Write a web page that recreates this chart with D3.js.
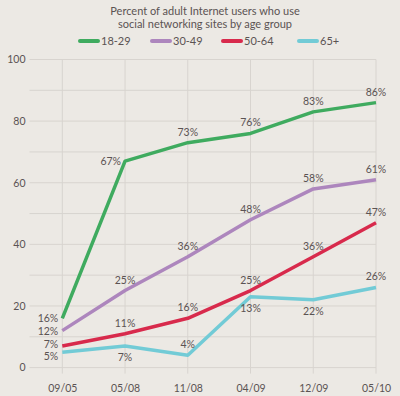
<!DOCTYPE html>
<html><head><meta charset="utf-8">
<script src="https://cdn.jsdelivr.net/npm/d3@7"></script>
<style>
html,body{margin:0;padding:0;background:#ece9e4;}
svg{display:block;font-family:Lato,"Open Sans",sans-serif;}
</style></head>
<body><svg id="c" width="400" height="396"></svg>
<script>
const titleLines = ["Percent of adult Internet users who use", "social networking sites by age group"];
const categories = ["09/05", "05/08", "11/08", "04/09", "12/09", "05/10"];
const seriesNames = ["18-29", "30-49", "50-64", "65+"];
const seriesColors = ["#3fab5f", "#ad86bd", "#d82a4c", "#72cbd6"];
const values18_29 = [16, 67, 73, 76, 83, 86];
const values30_49 = [12, 25, 36, 48, 58, 61];
const values50_64 = [7, 11, 16, 25, 36, 47];
const values65 = [5, 7, 4, 23, 22, 26];
const labels18_29 = ["16%", "67%", "73%", "76%", "83%", "86%"];
const labels30_49 = ["12%", "25%", "36%", "48%", "58%", "61%"];
const labels50_64 = ["7%", "11%", "16%", "25%", "36%", "47%"];
const labels65 = ["5%", "7%", "4%", "13%", "22%", "26%"];
const yTicks = [0, 20, 40, 60, 80, 100];
const yGrid = [0, 10, 20, 30, 40, 50, 60, 70, 80, 90, 100];
// label placement codes: L = left, LU = left raised, LD = left lowered, A = above, B = below
const place18_29 = ["L", "L", "A", "A", "A", "A"];
const place30_49 = ["L", "A", "A", "A", "A", "A"];
const place50_64 = ["LU", "A", "A", "A", "A", "A"];
const place65 = ["LD", "B", "A", "B", "B", "A"];

const series = [
  {name: seriesNames[0], color: seriesColors[0], values: values18_29, labels: labels18_29, place: place18_29},
  {name: seriesNames[1], color: seriesColors[1], values: values30_49, labels: labels30_49, place: place30_49},
  {name: seriesNames[2], color: seriesColors[2], values: values50_64, labels: labels50_64, place: place50_64},
  {name: seriesNames[3], color: seriesColors[3], values: values65, labels: labels65, place: place65}
];

const svg = d3.select("#c");
const textColor = "#5b5353";
const gridColor = "#d8d4cf";

const x = d3.scalePoint().domain(categories).range([62.3, 376]);
const y = d3.scaleLinear().domain([0, 100]).range([367.6, 59.5]);

// title
svg.append("g").selectAll("text").data(titleLines).join("text")
  .attr("x", 205).attr("y", (d, i) => 14.5 + i * 13)
  .attr("text-anchor", "middle").attr("font-size", 11).attr("fill", textColor).text(d => d);

// legend
const legendX = [80, 152, 223, 299];
const lg = svg.append("g").selectAll("g").data(series).join("g")
  .attr("transform", (d, i) => `translate(${legendX[i]},41)`);
lg.append("line").attr("x1", 0).attr("x2", 18).attr("y1", 0).attr("y2", 0)
  .attr("stroke", d => d.color).attr("stroke-width", 4).attr("stroke-linecap", "round");
lg.append("text").attr("x", 21).attr("y", 4).attr("font-size", 11).attr("fill", textColor).text(d => d.name);

// grid
const grid = svg.append("g");
grid.selectAll("line.h").data(yGrid).join("line").attr("class", "h")
  .attr("x1", 29.5).attr("x2", 376).attr("y1", d => y(d)).attr("y2", d => y(d))
  .attr("stroke", gridColor).attr("stroke-width", 1);
grid.selectAll("line.v").data(categories).join("line").attr("class", "v")
  .attr("x1", d => x(d)).attr("x2", d => x(d)).attr("y1", y(100)).attr("y2", y(0) + 6)
  .attr("stroke", gridColor).attr("stroke-width", 1);

// y axis labels
const yAxis = d3.axisLeft(y).tickValues(yTicks).tickSize(0).tickPadding(4);
const ya = svg.append("g").attr("transform", "translate(29.5,0)").call(yAxis);
ya.select(".domain").remove();
ya.selectAll("text").attr("font-size", 10.5).attr("fill", textColor).attr("font-family", "Lato, sans-serif");

// x axis labels
const xAxis = d3.axisBottom(x).tickSize(0).tickPadding(0);
const xa = svg.append("g").attr("transform", `translate(0,${y(0) + 16.5})`).call(xAxis);
xa.select(".domain").remove();
xa.selectAll("text").attr("font-size", 10.5).attr("fill", textColor).attr("font-family", "Lato, sans-serif");

// lines
const line = d3.line().x((d, i) => x(categories[i])).y(d => y(d));
svg.append("g").selectAll("path").data(series).join("path")
  .attr("d", d => line(d.values)).attr("fill", "none")
  .attr("stroke", d => d.color).attr("stroke-width", 3.5)
  .attr("stroke-linejoin", "round");

// labels
const lbl = svg.append("g");
series.forEach(s => {
  s.values.forEach((v, i) => {
    const p = s.place[i];
    let tx = x(categories[i]), ty = y(v), anchor = "middle";
    if (p[0] === "L") {
      tx -= 4; ty += 4; anchor = "end";
      if (p === "LU") ty -= 2.5;
      if (p === "LD") ty += 3.5;
    }
    else if (p === "A") { ty -= 7; }
    else { ty += 15; }
    lbl.append("text").attr("x", tx).attr("y", ty).attr("text-anchor", anchor)
      .attr("font-size", 10.5).attr("fill", textColor).text(s.labels[i]);
  });
});
</script></body></html>
